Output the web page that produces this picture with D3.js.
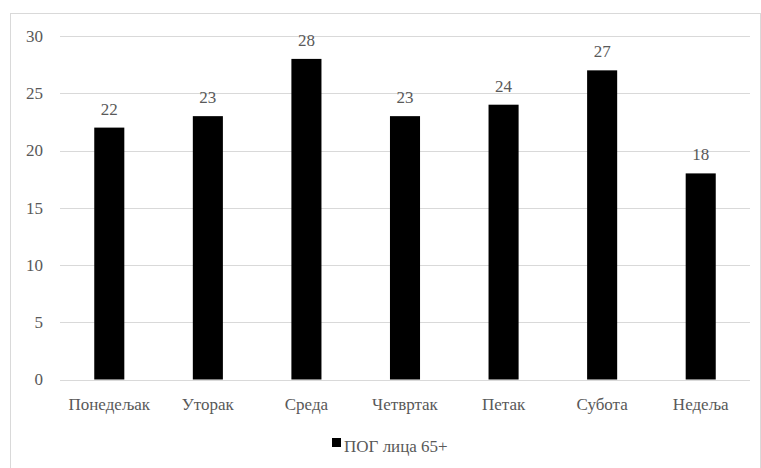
<!DOCTYPE html>
<html>
<head>
<meta charset="utf-8">
<script src="https://cdnjs.cloudflare.com/ajax/libs/d3/7.8.5/d3.min.js"></script>
<style>
  body { margin: 0; background: #fff; }
</style>
</head>
<body>
<div id="chart"></div>
<script>
var days = ["Понедељак", "Уторак", "Среда", "Четвртак", "Петак", "Субота", "Недеља"];
var values = [22, 23, 28, 23, 24, 27, 18];
var yTicks = [0, 5, 10, 15, 20, 25, 30];
var seriesName = "ПОГ лица 65+";

var width = 761, height = 468;
var margin = {left: 60, right: 11, top: 36, bottom: 88.5};
var font = "Liberation Serif, DejaVu Serif, serif";

var svg = d3.select("#chart").append("svg")
    .attr("width", width)
    .attr("height", height);

// outer frame
svg.append("rect")
    .attr("x", 10.5).attr("y", 13.5)
    .attr("width", 750).attr("height", 470)
    .attr("fill", "none")
    .attr("stroke", "#d9d9d9");

var x = d3.scaleBand()
    .domain(days)
    .range([margin.left, width - margin.right])
    .paddingInner(0.695)
    .paddingOuter(0.3475);

var y = d3.scaleLinear()
    .domain([0, 30])
    .range([height - margin.bottom, margin.top]);

// grid
svg.append("g")
    .selectAll("line")
    .data(yTicks)
    .enter()
    .append("line")
    .attr("x1", margin.left)
    .attr("x2", width - margin.right)
    .attr("y1", function(d){ return Math.round(y(d)) + 0.5; })
    .attr("y2", function(d){ return Math.round(y(d)) + 0.5; })
    .attr("stroke", "#d9d9d9")
    .attr("stroke-width", 1);

function label(sel){
  return sel
    .style("font-family", font)
    .style("font-size", "17px")
    .style("fill", "#595959");
}

// y labels
svg.append("g")
    .selectAll("text")
    .data(yTicks)
    .enter()
    .append("text")
    .call(label)
    .attr("x", 43)
    .attr("y", function(d){ return y(d); })
    .attr("dy", "0.35em")
    .attr("text-anchor", "end")
    .text(function(d){ return d; });

// bars
svg.append("g")
    .selectAll("rect")
    .data(values)
    .enter()
    .append("rect")
    .attr("x", function(d, i){ return x(days[i]); })
    .attr("y", function(d){ return y(d); })
    .attr("width", x.bandwidth())
    .attr("height", function(d){ return y(0) - y(d); })
    .attr("fill", "#000");

// value labels
svg.append("g")
    .selectAll("text")
    .data(values)
    .enter()
    .append("text")
    .call(label)
    .attr("x", function(d, i){ return x(days[i]) + x.bandwidth() / 2; })
    .attr("y", function(d){ return y(d) - 13; })
    .attr("text-anchor", "middle")
    .text(function(d){ return d; });

// category labels
svg.append("g")
    .selectAll("text")
    .data(days)
    .enter()
    .append("text")
    .call(label)
    .attr("x", function(d){ return x(d) + x.bandwidth() / 2; })
    .attr("y", 410)
    .attr("text-anchor", "middle")
    .text(function(d){ return d; });

// legend
var legend = svg.append("g");
legend.append("rect")
    .attr("x", 332).attr("y", 438)
    .attr("width", 9).attr("height", 9)
    .attr("fill", "#000");
legend.append("text")
    .call(label)
    .attr("x", 344).attr("y", 452)
    .text(seriesName);
</script>
</body>
</html>
